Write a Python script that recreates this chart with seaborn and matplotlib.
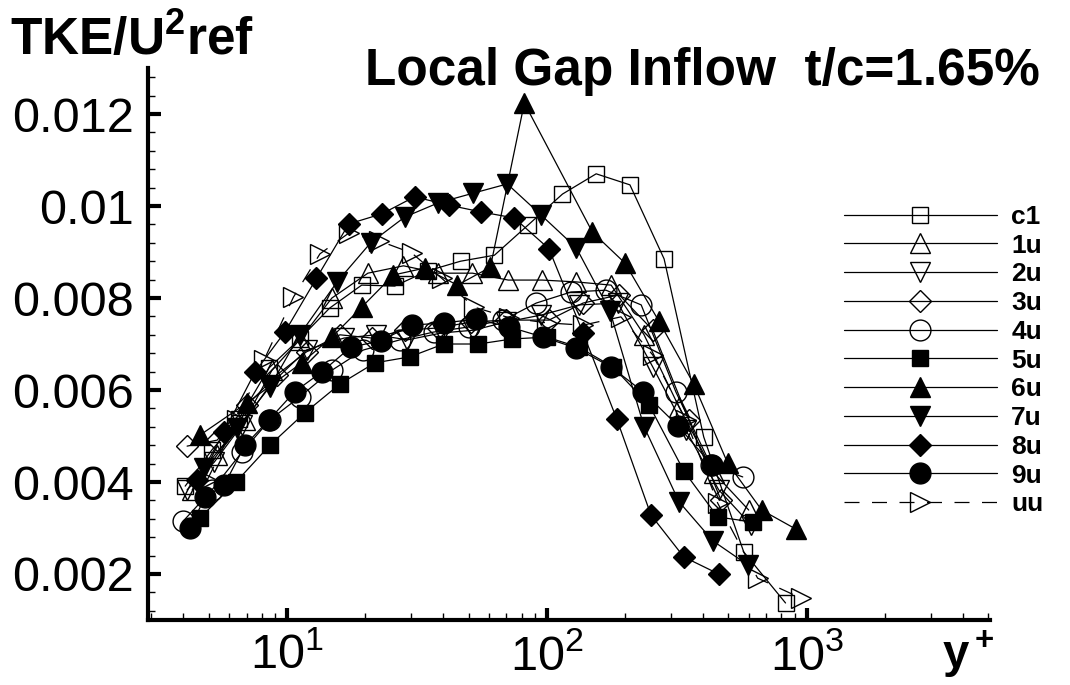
import matplotlib
matplotlib.use("Agg")
import matplotlib.pyplot as plt
from matplotlib.ticker import FixedLocator, LogLocator, FuncFormatter, MultipleLocator, NullFormatter, LogFormatterSciNotation
import seaborn as sns

# ---------------- data ----------------
series_names = ["c1", "1u", "2u", "3u", "4u", "5u", "6u", "7u", "8u", "9u", "uu"]

x_c1 = [4.06, 5.15, 6.54, 8.53, 11.2, 14.6, 19.4, 26.0, 34.8, 46.6, 62.9, 84.9, 115, 155, 209, 283, 402, 573, 830]
y_c1 = [0.00391, 0.00470, 0.00537, 0.00648, 0.00711, 0.00778, 0.00828, 0.00826, 0.00859, 0.00880,
        0.00893, 0.00959, 0.01026, 0.01070, 0.01046, 0.00885, 0.00498, 0.00248, 0.00137]

x_1u = [4.32, 5.39, 6.90, 8.76, 11.2, 14.9, 20.5, 28.1, 38.3, 51.8, 71.1, 96.1, 130, 177, 237, 323, 440, 599]
y_1u = [0.00383, 0.00459, 0.00535, 0.00643, 0.00709, 0.00800, 0.00854, 0.00870, 0.00854, 0.00854,
        0.00839, 0.00839, 0.00835, 0.00828, 0.00720, 0.00563, 0.00420, 0.00339]

x_2u = [4.13, 5.25, 6.72, 8.60, 11.9, 16.6, 22.0, 29.1, 39.4, 52.2, 69.9, 95.3, 133, 188, 256, 343, 459, 610]
y_2u = [0.00383, 0.00443, 0.00524, 0.00611, 0.00687, 0.00713, 0.00720, 0.00709, 0.00724, 0.00730,
        0.00748, 0.00763, 0.00785, 0.00789, 0.00650, 0.00513, 0.00383, 0.00307]

x_3u = [4.13, 5.39, 7.02, 9.15, 11.9, 16.0, 21.2, 28.4, 38.3, 51.3, 69.9, 102, 138, 190, 256, 352, 468]
y_3u = [0.00478, 0.00491, 0.00567, 0.00633, 0.00683, 0.00720, 0.00713, 0.00730, 0.00735, 0.00748,
        0.00752, 0.00752, 0.00789, 0.00807, 0.00730, 0.00535, 0.00361]

x_4u = [3.99, 5.15, 6.72, 8.60, 11.2, 14.9, 19.7, 27.2, 36.7, 50.0, 68.1, 91.1, 124, 169, 231, 314, 428, 568]
y_4u = [0.00315, 0.00383, 0.00465, 0.00535, 0.00585, 0.00643, 0.00687, 0.00709, 0.00726, 0.00737,
        0.00752, 0.00789, 0.00813, 0.00817, 0.00785, 0.00596, 0.00437, 0.00411]

x_5u = [4.63, 6.37, 8.60, 11.7, 16.0, 21.8, 29.7, 40.1, 54.6, 73.7, 100, 133, 180, 248, 337, 455, 620]
y_5u = [0.00322, 0.00400, 0.00480, 0.00550, 0.00613, 0.00659, 0.00672, 0.00700, 0.00700, 0.00711,
        0.00715, 0.00693, 0.00650, 0.00567, 0.00424, 0.00324, 0.00313]

x_6u = [4.63, 7.02, 11.4, 14.9, 19.4, 25.7, 33.9, 45.3, 60.7, 82.0, 150, 200, 270, 368, 497, 672, 907]
y_6u = [0.00502, 0.00572, 0.00659, 0.00715, 0.00780, 0.00850, 0.00865, 0.00828, 0.00867, 0.01224,
        0.00943, 0.00876, 0.00750, 0.00613, 0.00441, 0.00339, 0.00298]

x_7u = [4.80, 6.43, 8.60, 11.2, 15.6, 21.0, 28.4, 38.3, 52.2, 70.5, 95.3, 130, 175, 237, 323, 436, 593]
y_7u = [0.00430, 0.00517, 0.00607, 0.00720, 0.00835, 0.00920, 0.00976, 0.01007, 0.01028, 0.01048,
        0.00980, 0.00909, 0.00772, 0.00520, 0.00357, 0.00272, 0.00220]

x_8u = [4.51, 5.73, 7.54, 9.82, 13.0, 17.3, 23.2, 31.0, 41.9, 56.1, 75.0, 102, 138, 186, 252, 337, 459]
y_8u = [0.00404, 0.00509, 0.00639, 0.00726, 0.00843, 0.00961, 0.00983, 0.01020, 0.01002, 0.00987,
        0.00974, 0.00907, 0.00724, 0.00537, 0.00328, 0.00237, 0.00200]

x_9u = [4.24, 4.84, 5.73, 6.90, 8.53, 10.7, 13.6, 17.6, 23.0, 30.2, 40.4, 53.6, 71.8, 97.0, 130, 177, 235, 320, 432]
y_9u = [0.00300, 0.00367, 0.00393, 0.00480, 0.00535, 0.00596, 0.00639, 0.00693, 0.00707, 0.00741,
        0.00746, 0.00754, 0.00737, 0.00715, 0.00691, 0.00650, 0.00596, 0.00522, 0.00437]

x_uu = [4.93, 6.43, 8.16, 10.6, 13.4, 17.3, 22.7, 30.2, 39.4, 52.7, 71.8, 100, 138, 193, 256, 343, 455, 648, 948]
y_uu = [0.00404, 0.00535, 0.00665, 0.00802, 0.00896, 0.00941, 0.00924, 0.00898, 0.00843, 0.00780,
        0.00757, 0.00746, 0.00741, 0.00759, 0.00676, 0.00535, 0.00354, 0.00191, 0.00148]

xs = [x_c1, x_1u, x_2u, x_3u, x_4u, x_5u, x_6u, x_7u, x_8u, x_9u, x_uu]
ys = [y_c1, y_1u, y_2u, y_3u, y_4u, y_5u, y_6u, y_7u, y_8u, y_9u, y_uu]

y_ticks = [0.002, 0.004, 0.006, 0.008, 0.010, 0.012]
x_ticks = [10, 100, 1000]

# ---------------- styles ----------------
markers = ["s", "^", "v", "D", "o", "s", "^", "v", "D", "o", ">"]
filled = [False, False, False, False, False, True, True, True, True, True, False]
msizes = [12, 14, 14, 11, 15, 12, 14, 14, 11, 15, 14]

sns.set_style("ticks")
plt.rcParams["font.family"] = ["Liberation Sans", "DejaVu Sans"]
plt.rcParams["mathtext.fontset"] = "custom"
plt.rcParams["mathtext.rm"] = "Liberation Sans"
plt.rcParams["mathtext.it"] = "Liberation Sans:italic"
plt.rcParams["mathtext.bf"] = "Liberation Sans:bold"
for k in ["text.color", "axes.labelcolor", "xtick.color", "ytick.color", "axes.edgecolor"]:
    plt.rcParams[k] = "black"

fig = plt.figure(figsize=(10.7, 6.85), dpi=100)
ax = fig.add_axes([0.1383, 0.0949, 0.7869, 0.8058])

for name, x, y, m, f, ms in zip(series_names, xs, ys, markers, filled, msizes):
    ls = (0, (12, 10)) if name == "uu" else "-"
    sns.lineplot(x=x, y=y, ax=ax, sort=False, estimator=None, color="black",
                 linewidth=0.9, linestyle=ls, marker=m, markersize=ms,
                 markerfacecolor="black" if f else "none", markeredgecolor="black",
                 markeredgewidth=1.0, label=name)

ax.set_xscale("log")
ax.set_xlim(2.92, 5080)
ax.set_ylim(0.001, 0.013)

ax.xaxis.set_major_locator(FixedLocator(x_ticks))
ax.xaxis.set_major_formatter(LogFormatterSciNotation())
ax.xaxis.set_minor_locator(LogLocator(base=10, subs=range(2, 10)))
ax.xaxis.set_minor_formatter(NullFormatter())
ax.yaxis.set_major_locator(FixedLocator(y_ticks))
ax.yaxis.set_major_formatter(FuncFormatter(lambda v, p: "%g" % v))
ax.yaxis.set_minor_locator(MultipleLocator(0.0004))

ax.tick_params(which="major", direction="in", length=9, width=3, labelsize=35, pad=10, colors="black")
ax.tick_params(which="minor", direction="in", length=5, width=1, colors="black")
for s in ["left", "bottom"]:
    ax.spines[s].set_linewidth(3)
    ax.spines[s].set_color("black")
sns.despine(ax=ax)
ax.set_xlabel("")
ax.set_ylabel("")

leg = ax.legend(loc="upper left", bbox_to_anchor=(820 / 1070, 1 - 181 / 685),
                bbox_transform=fig.transFigure, frameon=False, numpoints=1,
                handlelength=5.8, handletextpad=0.55, labelspacing=0.18,
                prop={"weight": "bold", "size": 19})
for t in leg.get_texts():
    t.set_color("black")

fig.text(10 / 1070, 1 - 55 / 685, r"$\mathbf{TKE/U^2ref}$", fontsize=37, va="baseline", ha="left")
fig.text(1040 / 1070, 1 - 85 / 685, "Local Gap Inflow  t/c=1.65%", fontsize=37,
         fontweight="bold", va="baseline", ha="right")
fig.text(942 / 1070, 1 - 668 / 685, r"$\mathbf{y^+}$", fontsize=34, va="baseline", ha="left")

fig.savefig("out.png", dpi=100)
